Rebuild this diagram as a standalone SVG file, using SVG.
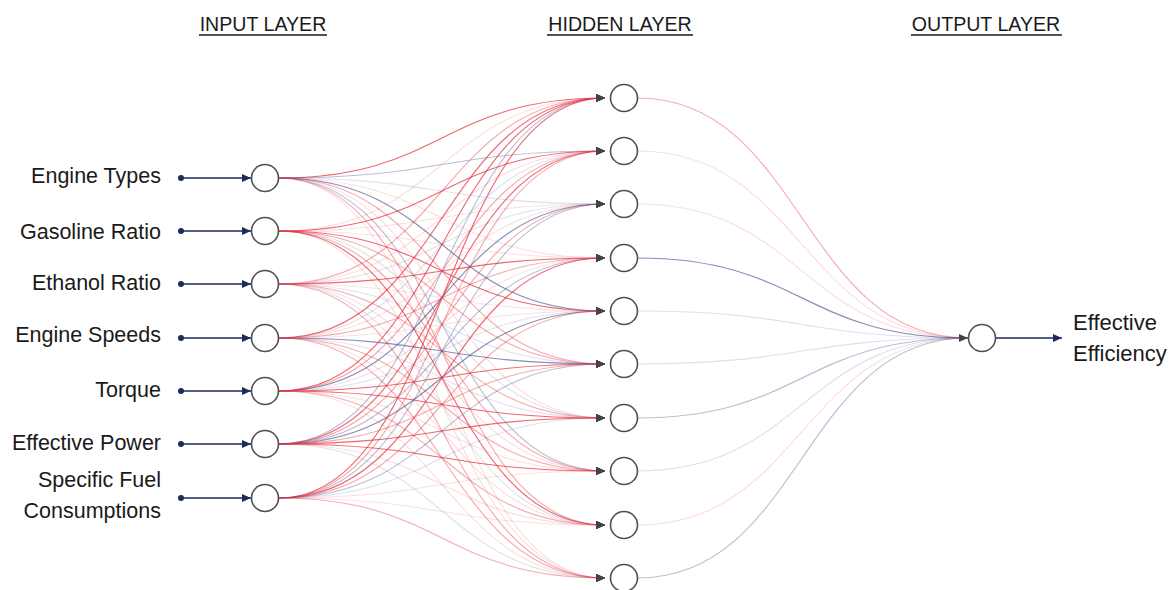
<svg xmlns="http://www.w3.org/2000/svg" width="1171" height="590" viewBox="0 0 1171 590">
<style>
text{font-family:"Liberation Sans",Arial,sans-serif;fill:#1a1a1a}
.lbl{font-size:21.5px;text-anchor:end}
.hdr{font-size:19.6px;text-anchor:middle}
.nd{fill:#fff;stroke:#505050;stroke-width:1.6}
.e{fill:none;stroke-width:1.15;marker-end:url(#ah)}
.o{fill:none;stroke-width:1.2}
.rs{stroke:#e8343f;stroke-opacity:.75}
.rm{stroke:#e8343f;stroke-opacity:.42}
.rl{stroke:#e8343f;stroke-opacity:.16}
.bs{stroke:#4e5290;stroke-opacity:.66}
.bm{stroke:#4e5290;stroke-opacity:.38}
.bl{stroke:#4e5290;stroke-opacity:.18}
.nav{stroke:#1c2a5e;stroke-width:1.5;fill:none}
</style>
<defs>
<marker id="ah" markerWidth="9" markerHeight="8" refX="9" refY="4" orient="auto" markerUnits="userSpaceOnUse"><path d="M0,0 L9,4 L0,8 Z" fill="#444"/></marker>
<marker id="nv" markerWidth="9" markerHeight="8" refX="9" refY="4" orient="auto" markerUnits="userSpaceOnUse"><path d="M0,0 L9,4 L0,8 Z" fill="#1c2a5e"/></marker>
</defs>
<g id="headers">
<text class="hdr" x="263" y="31">INPUT LAYER</text>
<line x1="199" y1="35" x2="327" y2="35" stroke="#1a1a1a" stroke-width="1.3"/>
<text class="hdr" x="620" y="31">HIDDEN LAYER</text>
<line x1="547" y1="35" x2="693" y2="35" stroke="#1a1a1a" stroke-width="1.3"/>
<text class="hdr" x="986" y="31">OUTPUT LAYER</text>
<line x1="911" y1="35" x2="1062" y2="35" stroke="#1a1a1a" stroke-width="1.3"/>
</g>
<g id="connectors">
<path class="e rs" d="M279,178 C442,178 442,98 605,98"/>
<path class="e bm" d="M279,178 C442,178 442,151 605,151"/>
<path class="e bl" d="M279,178 C442,178 442,204 605,204"/>
<path class="e rl" d="M279,178 C442,178 442,258 605,258"/>
<path class="e bs" d="M279,178 C442,178 442,311 605,311"/>
<path class="e rm" d="M279,178 C442,178 442,364 605,364"/>
<path class="e rl" d="M279,178 C442,178 442,418 605,418"/>
<path class="e bm" d="M279,178 C442,178 442,471 605,471"/>
<path class="e rm" d="M279,178 C442,178 442,525 605,525"/>
<path class="e rl" d="M279,178 C442,178 442,578 605,578"/>
<path class="e rl" d="M279,231 C442,231 442,98 605,98"/>
<path class="e rs" d="M279,231 C442,231 442,151 605,151"/>
<path class="e rl" d="M279,231 C442,231 442,204 605,204"/>
<path class="e rl" d="M279,231 C442,231 442,258 605,258"/>
<path class="e rs" d="M279,231 C442,231 442,311 605,311"/>
<path class="e rm" d="M279,231 C442,231 442,364 605,364"/>
<path class="e bl" d="M279,231 C442,231 442,418 605,418"/>
<path class="e rm" d="M279,231 C442,231 442,471 605,471"/>
<path class="e rs" d="M279,231 C442,231 442,525 605,525"/>
<path class="e rl" d="M279,231 C442,231 442,578 605,578"/>
<path class="e rm" d="M279,284 C442,284 442,98 605,98"/>
<path class="e rl" d="M279,284 C442,284 442,151 605,151"/>
<path class="e bl" d="M279,284 C442,284 442,204 605,204"/>
<path class="e rs" d="M279,284 C442,284 442,258 605,258"/>
<path class="e rl" d="M279,284 C442,284 442,311 605,311"/>
<path class="e bl" d="M279,284 C442,284 442,364 605,364"/>
<path class="e rm" d="M279,284 C442,284 442,418 605,418"/>
<path class="e rl" d="M279,284 C442,284 442,471 605,471"/>
<path class="e bl" d="M279,284 C442,284 442,525 605,525"/>
<path class="e rm" d="M279,284 C442,284 442,578 605,578"/>
<path class="e rs" d="M279,338 C442,338 442,98 605,98"/>
<path class="e bl" d="M279,338 C442,338 442,151 605,151"/>
<path class="e rl" d="M279,338 C442,338 442,204 605,204"/>
<path class="e rm" d="M279,338 C442,338 442,258 605,258"/>
<path class="e rl" d="M279,338 C442,338 442,311 605,311"/>
<path class="e bs" d="M279,338 C442,338 442,364 605,364"/>
<path class="e bl" d="M279,338 C442,338 442,418 605,418"/>
<path class="e rm" d="M279,338 C442,338 442,471 605,471"/>
<path class="e rl" d="M279,338 C442,338 442,525 605,525"/>
<path class="e rm" d="M279,338 C442,338 442,578 605,578"/>
<path class="e rs" d="M279,391 C442,391 442,98 605,98"/>
<path class="e rm" d="M279,391 C442,391 442,151 605,151"/>
<path class="e bs" d="M279,391 C442,391 442,204 605,204"/>
<path class="e rl" d="M279,391 C442,391 442,258 605,258"/>
<path class="e bl" d="M279,391 C442,391 442,311 605,311"/>
<path class="e rs" d="M279,391 C442,391 442,364 605,364"/>
<path class="e rs" d="M279,391 C442,391 442,418 605,418"/>
<path class="e rl" d="M279,391 C442,391 442,471 605,471"/>
<path class="e rm" d="M279,391 C442,391 442,525 605,525"/>
<path class="e rl" d="M279,391 C442,391 442,578 605,578"/>
<path class="e bm" d="M279,444 C442,444 442,98 605,98"/>
<path class="e rs" d="M279,444 C442,444 442,151 605,151"/>
<path class="e rm" d="M279,444 C442,444 442,204 605,204"/>
<path class="e bm" d="M279,444 C442,444 442,258 605,258"/>
<path class="e bs" d="M279,444 C442,444 442,311 605,311"/>
<path class="e rm" d="M279,444 C442,444 442,364 605,364"/>
<path class="e rs" d="M279,444 C442,444 442,418 605,418"/>
<path class="e rs" d="M279,444 C442,444 442,471 605,471"/>
<path class="e rl" d="M279,444 C442,444 442,525 605,525"/>
<path class="e bl" d="M279,444 C442,444 442,578 605,578"/>
<path class="e rs" d="M279,498 C442,498 442,98 605,98"/>
<path class="e rm" d="M279,498 C442,498 442,151 605,151"/>
<path class="e bm" d="M279,498 C442,498 442,204 605,204"/>
<path class="e rs" d="M279,498 C442,498 442,258 605,258"/>
<path class="e rm" d="M279,498 C442,498 442,311 605,311"/>
<path class="e bm" d="M279,498 C442,498 442,364 605,364"/>
<path class="e bl" d="M279,498 C442,498 442,418 605,418"/>
<path class="e rl" d="M279,498 C442,498 442,471 605,471"/>
<path class="e rl" d="M279,498 C442,498 442,525 605,525"/>
<path class="e rm" d="M279,498 C442,498 442,578 605,578"/>
<path class="o rm" d="M637,98 C802,98 802,338 968,338"/>
<path class="o rl" d="M637,151 C802,151 802,338 968,338"/>
<path class="o rl" d="M637,204 C802,204 802,338 968,338"/>
<path class="o bs" d="M637,258 C802,258 802,338 968,338"/>
<path class="o bl" d="M637,311 C802,311 802,338 968,338"/>
<path class="o bl" d="M637,364 C802,364 802,338 968,338"/>
<path class="o bm" d="M637,418 C802,418 802,338 968,338"/>
<path class="o bl" d="M637,471 C802,471 802,338 968,338"/>
<path class="o rl" d="M637,525 C802,525 802,338 968,338"/>
<path class="o bm" d="M637,578 C802,578 802,338 968,338" marker-end="url(#ah)"/>
<g fill="#1c2a5e">
<circle cx="181" cy="178" r="3"/><circle cx="181" cy="231" r="3"/><circle cx="181" cy="284" r="3"/><circle cx="181" cy="338" r="3"/><circle cx="181" cy="391" r="3"/><circle cx="181" cy="444" r="3"/><circle cx="181" cy="498" r="3"/>
</g>
<path class="nav" marker-end="url(#nv)" d="M181,178 H251"/>
<path class="nav" marker-end="url(#nv)" d="M181,231 H251"/>
<path class="nav" marker-end="url(#nv)" d="M181,284 H251"/>
<path class="nav" marker-end="url(#nv)" d="M181,338 H251"/>
<path class="nav" marker-end="url(#nv)" d="M181,391 H251"/>
<path class="nav" marker-end="url(#nv)" d="M181,444 H251"/>
<path class="nav" marker-end="url(#nv)" d="M181,498 H251"/>
<path class="nav" marker-end="url(#nv)" d="M996,338 H1062"/>
</g>
<g id="in1"><circle class="nd" cx="265" cy="178" r="13.5"/><text class="lbl" x="161" y="183">Engine Types</text></g>
<g id="in2"><circle class="nd" cx="265" cy="231" r="13.5"/><text class="lbl" x="161" y="239">Gasoline Ratio</text></g>
<g id="in3"><circle class="nd" cx="265" cy="284" r="13.5"/><text class="lbl" x="161" y="290">Ethanol Ratio</text></g>
<g id="in4"><circle class="nd" cx="265" cy="338" r="13.5"/><text class="lbl" x="161" y="342">Engine Speeds</text></g>
<g id="in5"><circle class="nd" cx="265" cy="391" r="13.5"/><text class="lbl" x="161" y="397">Torque</text></g>
<g id="in6"><circle class="nd" cx="265" cy="444" r="13.5"/><text class="lbl" x="161" y="450">Effective Power</text></g>
<g id="in7"><circle class="nd" cx="265" cy="498" r="13.5"/><text class="lbl" x="161" y="487">Specific Fuel</text><text class="lbl" x="161" y="518">Consumptions</text></g>
<g id="h1"><circle class="nd" cx="624" cy="98" r="13.5"/></g>
<g id="h2"><circle class="nd" cx="624" cy="151" r="13.5"/></g>
<g id="h3"><circle class="nd" cx="624" cy="204" r="13.5"/></g>
<g id="h4"><circle class="nd" cx="624" cy="258" r="13.5"/></g>
<g id="h5"><circle class="nd" cx="624" cy="311" r="13.5"/></g>
<g id="h6"><circle class="nd" cx="624" cy="364" r="13.5"/></g>
<g id="h7"><circle class="nd" cx="624" cy="418" r="13.5"/></g>
<g id="h8"><circle class="nd" cx="624" cy="471" r="13.5"/></g>
<g id="h9"><circle class="nd" cx="624" cy="525" r="13.5"/></g>
<g id="h10"><circle class="nd" cx="624" cy="578" r="13.5"/></g>
<g id="out"><circle class="nd" cx="982" cy="338" r="13.5"/><text x="1073" y="330" style="font-size:22px">Effective</text><text x="1073" y="361" style="font-size:22px">Efficiency</text></g>
</svg>
